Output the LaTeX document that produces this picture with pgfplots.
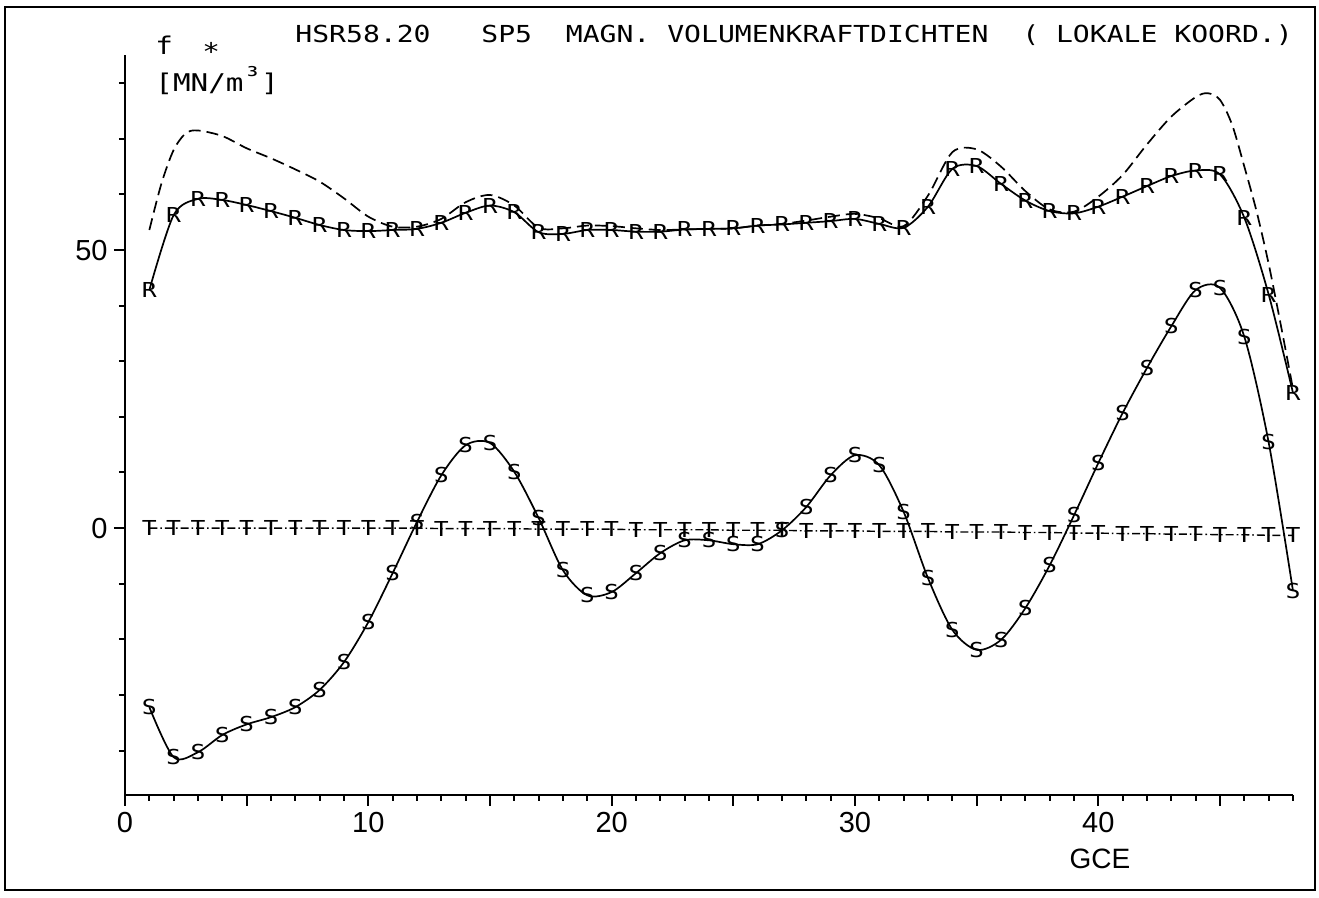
\documentclass[border=0pt]{standalone}
\usepackage{fontspec}
\setmainfont{Liberation Sans}
\newfontfamily\plotfont[FakeStretch=1.2]{DejaVu Sans Mono}
\usepackage{graphicx}
\usepackage{pgfplots}
\pgfplotsset{compat=1.18}
\usepackage{pgfplotstable}
\newcommand\markfont{\plotfont\fontsize{10.3bp}{11bp}\selectfont}
\newcommand\tickfont{\fontsize{14.5bp}{16bp}\selectfont}
\newcommand\titlefont{\plotfont\fontsize{11.7bp}{14bp}\selectfont}
\newcommand\labfont{\plotfont\fontsize{12.2bp}{14bp}\selectfont}

\pgfplotstableread{
x y
1 42.8
2 56.3
3 59.2
4 59.0
5 58.1
6 57.0
7 55.8
8 54.5
9 53.6
10 53.4
11 53.6
12 53.8
13 54.9
14 56.7
15 58.0
16 56.8
17 53.2
18 52.9
19 53.6
20 53.6
21 53.3
22 53.3
23 53.7
24 53.8
25 53.9
26 54.4
27 54.6
28 54.9
29 55.2
30 55.6
31 54.7
32 54.0
33 57.8
34 64.6
35 65.1
36 61.9
37 58.9
38 57.0
39 56.6
40 57.8
41 59.6
42 61.5
43 63.3
44 64.3
45 63.6
46 55.8
47 42.0
48 24.3
}\Rdata

\pgfplotstableread{
x y
1 53.6
1.5 62
2 68
2.5 71
3 71.5
4 70.5
5 68.3
6 66.5
7 64.5
8 62.3
9 59.3
10 56
11 54.2
12 54.2
13 55.6
14 58.6
15 59.9
16 58.0
17 54.0
18 53.9
19 54.4
20 54.3
21 53.9
22 53.6
23 53.7
24 53.8
25 53.9
26 54.4
27 54.7
28 55.3
29 56.0
30 56.5
31 55.7
32 54.3
33 59.8
34 67.6
35 68.1
36 65.0
37 60.6
38 57.3
39 56.9
40 59.6
41 63.5
42 69.0
43 74.0
44 77.5
44.5 78.2
45 77.0
45.5 72.5
46 65.0
46.5 57.0
47 47.5
47.5 36.5
48 25.0
}\Ddata

\pgfplotstableread{
x y
1 -32.2
2 -41.2
3 -40.3
4 -37.2
5 -35.3
6 -34.0
7 -32.2
8 -29.1
9 -24.1
10 -16.9
11 -8.1
12 1.1
13 9.5
14 14.9
15 15.3
16 10.1
17 1.8
18 -7.6
19 -12.1
20 -11.5
21 -8.1
22 -4.5
23 -2.2
24 -2.2
25 -2.9
26 -2.9
27 -0.4
28 3.8
29 9.5
30 13.1
31 11.3
32 2.9
33 -9.0
34 -18.3
35 -21.9
36 -20.1
37 -14.4
38 -6.7
39 2.3
40 11.7
41 20.7
42 28.8
43 36.3
44 42.8
45 43.2
46 34.4
47 15.4
48 -11.3
}\Sdata

\pgfplotstableread{
x y
1 0.0
2 0.0
3 0.0
4 0.0
5 0.0
6 0.0
7 0.0
8 0.0
9 0.0
10 0.0
11 0.0
12 0.0
13 -0.1
14 -0.1
15 -0.1
16 -0.1
17 -0.2
18 -0.2
19 -0.2
20 -0.2
21 -0.3
22 -0.3
23 -0.3
24 -0.3
25 -0.4
26 -0.4
27 -0.4
28 -0.5
29 -0.5
30 -0.5
31 -0.6
32 -0.6
33 -0.6
34 -0.7
35 -0.7
36 -0.7
37 -0.8
38 -0.8
39 -0.9
40 -0.9
41 -1.0
42 -1.0
43 -1.1
44 -1.1
45 -1.2
46 -1.2
47 -1.3
48 -1.3
}\Tdata

\begin{document}
\begin{tikzpicture}
\useasboundingbox (0,0) rectangle (659.5bp,449bp);
\draw[line width=1.2bp] (2.5bp,4bp) rectangle (657.5bp,445.5bp);
\begin{axis}[
  at={(62.5bp,51.5bp)}, anchor=south west,
  scale only axis, width=584bp, height=369.8bp,
  xmin=0, xmax=48, ymin=-48, ymax=85,
  axis x line=bottom, axis y line=left,
  axis line style={-, line width=1.1bp, black},
  xtick={0,5,...,45}, xticklabels={0,,10,,20,,30,,40,},
  minor xtick={1,2,...,48},
  ytick={0,50}, yticklabels={0,50},
  minor ytick={-40,-30,-20,-10,10,20,30,40,60,70,80},
  tick align=outside,
  major tick length=5.5bp, minor tick length=3bp,
  every tick/.style={line width=1bp, black},
  every minor tick/.style={line width=1bp, black},
  /pgf/number format/assume math mode=true,
  ticklabel style={font=\tickfont},
  xticklabel style={inner sep=0pt, yshift=-3bp},
  yticklabel style={inner sep=0pt, xshift=-3bp},
  clip=false,
]
\addplot[black, line width=0.85bp, dash pattern=on 6bp off 3bp, smooth] table {\Ddata};
\addplot[black, line width=0.85bp, smooth, mark=text, text mark={R}, text mark as node=true,
  text mark style={font=\markfont, inner sep=0pt}] table {\Rdata};
\addplot[black, line width=0.85bp, smooth, mark=text, text mark={S}, text mark as node=true,
  text mark style={font=\markfont, inner sep=0pt}] table {\Sdata};
\addplot[black, line width=0.7bp, dash pattern=on 4bp off 1.5bp on 0.8bp off 1.5bp, mark=text, text mark={T}, text mark as node=true,
  text mark style={font=\markfont, inner sep=0pt, solid}] table {\Tdata};
\end{axis}
\node[anchor=base west, inner sep=0pt] at (147.5bp,427.5bp) {\titlefont HSR58.20~~~SP5~~MAGN.~VOLUMENKRAFTDICHTEN~~(~LOKALE~KOORD.)};
\node[anchor=base west, inner sep=0pt] at (77.5bp,421.5bp) {\labfont f~~\hspace{-3bp}\raisebox{-2.75bp}{*}};
\node[anchor=base west, inner sep=0pt] at (77.5bp,403bp) {\labfont [MN/m\raisebox{3.5bp}{³}]};
\node[anchor=center, inner sep=0pt] at (550bp,19.5bp) {\fontsize{14bp}{16bp}\selectfont GCE};
\end{tikzpicture}
\end{document}
